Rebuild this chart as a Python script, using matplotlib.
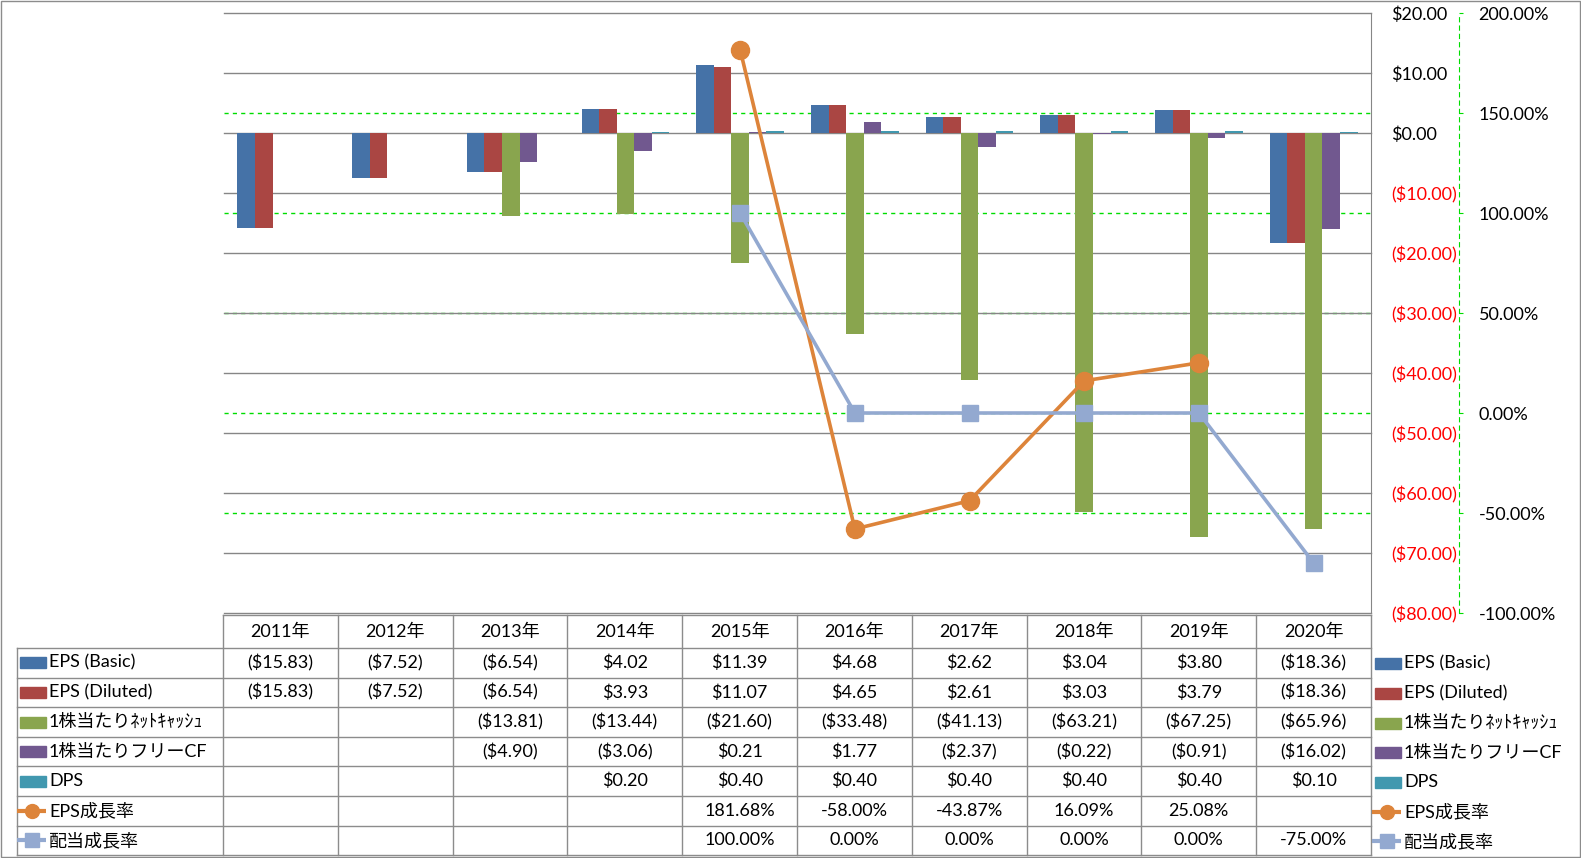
import matplotlib.pyplot as plt
import numpy as np
from matplotlib.patches import Rectangle
from matplotlib.transforms import blended_transform_factory

plt.rcParams['font.family'] = ['Lato', 'Noto Sans CJK JP', 'DejaVu Sans']
plt.rcParams['font.size'] = 13
plt.rcParams['lines.scale_dashes'] = False

years = ['2011年', '2012年', '2013年', '2014年', '2015年',
         '2016年', '2017年', '2018年', '2019年', '2020年']
nan = np.nan
eps_basic = [-15.83, -7.52, -6.54, 4.02, 11.39, 4.68, 2.62, 3.04, 3.80, -18.36]
eps_diluted = [-15.83, -7.52, -6.54, 3.93, 11.07, 4.65, 2.61, 3.03, 3.79, -18.36]
net_cash = [nan, nan, -13.81, -13.44, -21.60, -33.48, -41.13, -63.21, -67.25, -65.96]
free_cf = [nan, nan, -4.90, -3.06, 0.21, 1.77, -2.37, -0.22, -0.91, -16.02]
dps = [nan, nan, nan, 0.20, 0.40, 0.40, 0.40, 0.40, 0.40, 0.10]
eps_growth = [nan, nan, nan, nan, 181.68, -58.00, -43.87, 16.09, 25.08, nan]
div_growth = [nan, nan, nan, nan, 100.00, 0.00, 0.00, 0.00, 0.00, -75.00]

bar_names = ['EPS (Basic)', 'EPS (Diluted)', '1株当たりﾈｯﾄｷｬｯｼｭ', '1株当たりフリーCF', 'DPS']
bar_series = [eps_basic, eps_diluted, net_cash, free_cf, dps]
bar_colors = ['#4572A7', '#AA4643', '#89A54E', '#71588F', '#4198AF']
line_names = ['EPS成長率', '配当成長率']
line_series = [eps_growth, div_growth]
line_colors = ['#DD843A', '#93A9D0']
line_markers = ['o', 's']

W, H = 1581, 858
GRAY = '#8C8C8C'
GREEN = '#00DD00'
FS = 13

fig = plt.figure(figsize=(W / 100, H / 100), dpi=100)

# plot area (pixel positions from the reference)
ax = fig.add_axes([224 / W, (H - 613) / H, (1371 - 224) / W, 600 / H])
ax2 = ax.twinx()

x = np.arange(len(years))
w = 0.153
for i, (vals, col) in enumerate(zip(bar_series, bar_colors)):
    ax.bar(x + (i - 2) * w, vals, w, color=col, zorder=3)

# secondary gridlines (green dashed), behind the gray grid and the bars
pct_ticks = np.arange(-100, 201, 50)
trans = blended_transform_factory(ax.transAxes, ax2.transData)
for p in pct_ticks[1:-1]:
    ax.plot([0, 1], [p, p], transform=trans, color=GREEN, lw=1,
            ls=(0, (3, 3)), zorder=0.3)

for vals, col, mk in zip(line_series, line_colors, line_markers):
    ax2.plot(x, vals, color=col, lw=2.6, marker=mk,
             ms=13 if mk == 'o' else 12, zorder=3)


def money(v):
    return f'(${abs(v):.2f})' if v < 0 else f'${v:.2f}'


def pct(v):
    return f'{v:.2f}%'


usd_ticks = np.arange(-80, 21, 10)
ax.set_xlim(-0.5, 9.5)
ax.set_ylim(-80, 20)
ax.set_xticks([])
ax.set_yticks(usd_ticks, [money(v) for v in usd_ticks])
ax.yaxis.tick_right()
ax.tick_params(axis='y', length=0, pad=14.4, labelsize=FS)
for t, v in zip(ax.get_yticklabels(), usd_ticks):
    t.set_color('red' if v < 0 else 'black')
ax.grid(axis='y', color='#868686', lw=1, clip_on=False)
ax.set_axisbelow(True)
for s in ['left', 'top', 'bottom']:
    ax.spines[s].set_visible(False)
ax.spines['right'].set_color('#868686')

ax2.set_ylim(-100, 200)
ax2.set_yticks(pct_ticks, [pct(v) for v in pct_ticks])
ax2.tick_params(axis='y', length=3, color=GREEN, pad=11, labelsize=FS)
for t, v in zip(ax2.get_yticklabels(), pct_ticks):
    t.set_color('red' if v < 0 else 'black')
for s in ['left', 'top', 'bottom']:
    ax2.spines[s].set_visible(False)
ax2.spines['right'].set_position(('outward', 63.4))
ax2.spines['right'].set_color(GREEN)
ax2.spines['right'].set_linestyle((0, (3, 3)))

# data table + legends drawn in pixel space
ov = fig.add_axes([0, 0, 1, 1])
ov.set_xlim(0, W)
ov.set_ylim(H, 0)
ov.axis('off')

col_edges = np.linspace(223, 1371, len(years) + 1)
row_edges = 648 + 29.6 * np.arange(8)
lk = dict(color=GRAY, lw=1)
ov.plot([223, 1371], [615, 615], **lk)
for y in row_edges:
    ov.plot([17, 1371], [y, y], **lk)
ov.plot([17, 17], [648, row_edges[-1]], **lk)
for xe in col_edges:
    ov.plot([xe, xe], [615, row_edges[-1]], **lk)

col_mid = (col_edges[:-1] + col_edges[1:]) / 2
for cx, yr in zip(col_mid, years):
    ov.text(cx, 631.5, yr, ha='center', va='center', fontsize=FS)

rows = [[money(v) if not np.isnan(v) else '' for v in s] for s in bar_series]
rows += [[pct(v) if not np.isnan(v) else '' for v in s] for s in line_series]
names = bar_names + line_names
row_mid = (row_edges[:-1] + row_edges[1:]) / 2
for r, cy in enumerate(row_mid):
    for cx, txt in zip(col_mid, rows[r]):
        ov.text(cx, cy, txt, ha='center', va='center', fontsize=FS)


def legend_key(x0, cy, r):
    if r < len(bar_names):
        ov.add_patch(Rectangle((x0 + 3, cy - 5.5), 26, 11, color=bar_colors[r]))
    else:
        k = r - len(bar_names)
        ov.plot([x0, x0 + 29], [cy, cy], color=line_colors[k], lw=3,
                solid_capstyle='butt')
        ov.plot([x0 + 14.5], [cy], marker=line_markers[k], ms=10,
                color=line_colors[k])


for r, cy in enumerate(row_mid):
    legend_key(17, cy, r)
    ov.text(49, cy, names[r], ha='left', va='center', fontsize=FS)
    legend_key(1372, cy + 1, r)
    ov.text(1404, cy + 1, names[r], ha='left', va='center', fontsize=FS)

ov.add_patch(Rectangle((0.5, 0.5), W - 1.5, H - 1.5, fill=False,
                       edgecolor=GRAY, lw=1))

fig.savefig('out.png', dpi=100)
